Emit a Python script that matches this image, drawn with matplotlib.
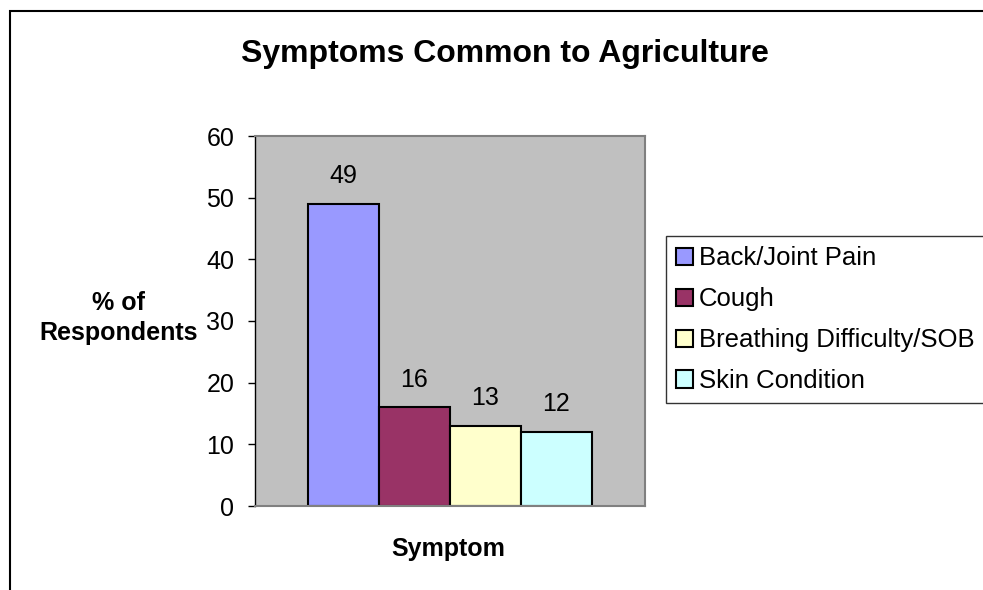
import matplotlib
matplotlib.use("Agg")
from matplotlib import pyplot as plt
from matplotlib.patches import Rectangle

plt.rcParams['font.family'] = ['Liberation Sans', 'DejaVu Sans']

# data
symptoms = ["Back/Joint Pain", "Cough", "Breathing Difficulty/SOB", "Skin Condition"]
percent = [49, 16, 13, 12]
bar_colors = ["#9999FF", "#993366", "#FFFFCC", "#CCFFFF"]
y_ticks = [0, 10, 20, 30, 40, 50, 60]

fig = plt.figure(figsize=(9.83, 5.90), dpi=100)
ax = fig.add_axes([255/983, 84/590, 390/983, 370/590])
ax.set_facecolor("#C0C0C0")

width = 284 / 390 / 4
start = -width * 1.5
for i in range(len(symptoms)):
    x = start + i * width
    ax.bar(x, percent[i], width=width, color=bar_colors[i], edgecolor="black",
           linewidth=1.5, label=symptoms[i])
    ax.annotate(str(percent[i]), (x, percent[i]), xytext=(0, 20),
                textcoords="offset points", ha="center", va="center", fontsize=18)

ax.set_xlim(-0.5, 0.5)
ax.set_ylim(0, 60)
ax.set_yticks(y_ticks)
ax.set_xticks([])
ax.tick_params(axis="y", labelsize=18, length=5, width=1, pad=10, direction="out")

for side in ["top", "right", "bottom"]:
    ax.spines[side].set_color("#808080")
    ax.spines[side].set_linewidth(1.5)
ax.spines["left"].set_color("black")
ax.spines["left"].set_linewidth(1)

fig.text(448/983, 1 - 549/590, "Symptom", ha="center", va="center",
         fontsize=18, fontweight="bold")
fig.text(119/983, 1 - 318/590, "% of\nRespondents", ha="center", va="center",
         fontsize=18, fontweight="bold", linespacing=1.3)

fig.text(505/983, 1 - 54/590, "Symptoms Common to Agriculture", ha="center",
         va="center", fontsize=23, fontweight="bold")

leg = fig.legend(loc="upper left", bbox_to_anchor=(666/983, 1 - 236/590),
                 bbox_transform=fig.transFigure, fontsize=18.5, frameon=True,
                 fancybox=False, edgecolor="black", borderaxespad=0,
                 handlelength=0.66, handleheight=0.66, handletextpad=0.23,
                 labelspacing=0.66, borderpad=0.4)
leg.get_frame().set_linewidth(1)
for h in leg.legend_handles:
    h.set_edgecolor("black")
    h.set_linewidth(1.5)

# outer chart border, running off the right and bottom edge
fig.patches.append(Rectangle((10/983, -0.1), 1.2, 1.1 - 11/590, transform=fig.transFigure,
                             fill=False, edgecolor="black", linewidth=1.5))

fig.savefig("out.png", dpi=100)
